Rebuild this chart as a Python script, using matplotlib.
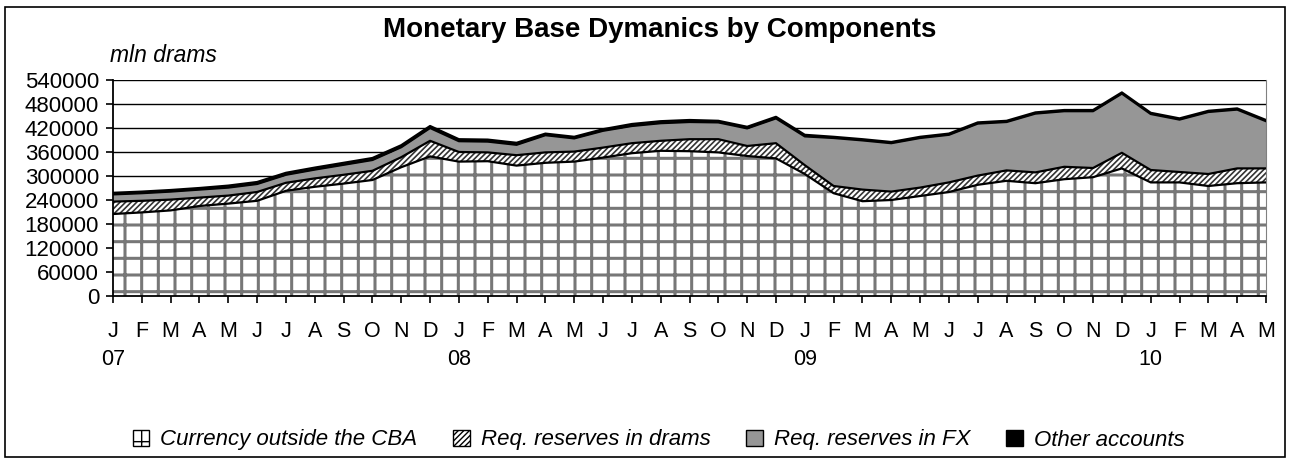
import matplotlib
matplotlib.use("Agg")
from matplotlib import pyplot as plt
from matplotlib.patches import Patch, Rectangle
import numpy as np

plt.rcParams['font.family'] = ['Liberation Sans', 'DejaVu Sans']

####  dati (mln drams), J 2007 - M 2010  ####
months = ["J", "F", "M", "A", "M", "J", "J", "A", "S", "O", "N", "D"] * 3 + ["J", "F", "M", "A", "M"]
years = {0: "07", 12: "08", 24: "09", 36: "10"}

currency = [205000, 209000, 214000, 225000, 231000, 238000, 263000, 273000, 281000, 290000,
            322000, 349000, 336000, 337000, 326000, 333000, 336000, 346000, 357000, 363000,
            362000, 359000, 350000, 344000, 305000, 257000, 237000, 240000, 250000, 260000,
            278000, 288000, 282000, 292000, 297000, 319000, 284000, 284000, 275000, 282000, 284000]
res_drams = [31000, 29000, 27000, 21000, 20000, 22000, 20000, 21000, 22000, 23000,
             25000, 39000, 24000, 22000, 26000, 26000, 25000, 25000, 25000, 25000,
             30000, 33000, 25000, 38000, 22000, 18000, 29000, 21000, 21000, 24000,
             23000, 26000, 27000, 31000, 23000, 39000, 31000, 26000, 30000, 37000, 35000]
res_fx = [18000, 19000, 20000, 20000, 20000, 20000, 20000, 22000, 25000, 27000,
          25000, 32000, 27000, 27000, 26000, 43000, 33000, 42000, 43000, 44000,
          43000, 42000, 44000, 62000, 72000, 120000, 123000, 121000, 124000, 119000,
          130000, 121000, 147000, 139000, 142000, 148000, 140000, 131000, 155000, 147000, 118000]
other = [4000, 4000, 4000, 4000, 5000, 5000, 5000, 5000, 5000, 5000,
         5000, 5000, 5000, 5000, 5000, 4000, 4000, 4000, 5000, 5000,
         5000, 4000, 4000, 4000, 4000, 3000, 3000, 3000, 3000, 3000,
         3000, 3000, 3000, 3000, 3000, 3000, 3000, 3000, 3000, 3000, 3000]

x = np.arange(len(currency))

fig = plt.figure(figsize=(12.91, 4.59), dpi=100)
ax = fig.add_axes([113/1291, 1-296/459, (1266-113)/1291, (296-80)/459])

colors = ['white', 'white', '#969696', 'black']
hatches = ['+', '//////', None, None]
hcol = ['#777777', '#333333', 'black', 'black']
hlw = [2.2, 1.2, 1.0, 1.0]
labels = ["Currency outside the CBA", "Req. reserves in drams", "Req. reserves in FX", "Other accounts"]

base = np.zeros(len(x))
for vals, c, h, hc, lw in zip([currency, res_drams, res_fx, other], colors, hatches, hcol, hlw):
    top = base + np.array(vals)
    with plt.rc_context({'hatch.linewidth': lw}):
        ax.fill_between(x, base, top, facecolor=c, edgecolor=hc, hatch=h, linewidth=0, zorder=2)
    ax.plot(x, top, color='black', lw=1.6, zorder=3)
    base = top

ax.set_xlim(0, len(x)-1)
ax.set_ylim(0, 540000)
ax.set_yticks(np.arange(0, 540001, 60000))
ax.yaxis.grid(True, color='black', lw=1.0, zorder=0)
ax.set_axisbelow(True)

xl = [m + ("\n" + years[i] if i in years else "") for i, m in enumerate(months)]
ax.set_xticks(x)
ax.set_xticklabels(xl, fontsize=15.5, linespacing=1.45)
ax.tick_params(axis='y', labelsize=16, length=5, width=1.2, pad=5)
ax.tick_params(axis='x', length=5, width=1.2, pad=13)
ax.spines['top'].set_visible(False)
ax.spines['right'].set_color('#808080')
ax.spines['left'].set_linewidth(1.3)
ax.spines['bottom'].set_linewidth(1.3)

fig.text(0.511, 1-30/459, "Monetary Base Dymanics by Components", ha='center', va='center',
         fontsize=20, fontweight='bold')
fig.text(110/1291, 1-55/459, "mln drams", ha='left', va='center', fontsize=16.5, style='italic')

with plt.rc_context({'hatch.linewidth': 1.0}):
    handles = [Patch(facecolor=c, edgecolor='black', hatch=h, lw=1) for c, h in zip(colors, hatches)]
fig.legend(handles, labels, loc='center', bbox_to_anchor=(0.51, 1-440/459), ncol=4,
           frameon=False, prop={'size': 16, 'style': 'italic'}, handlelength=0.75,
           handleheight=0.75, handletextpad=0.5, columnspacing=1.6)

fig.add_artist(Rectangle((5/1291, 2/459), 1280/1291, 450/459, transform=fig.transFigure,
                         fill=False, edgecolor='black', lw=1.2))

fig.savefig("out.png", dpi=100)
